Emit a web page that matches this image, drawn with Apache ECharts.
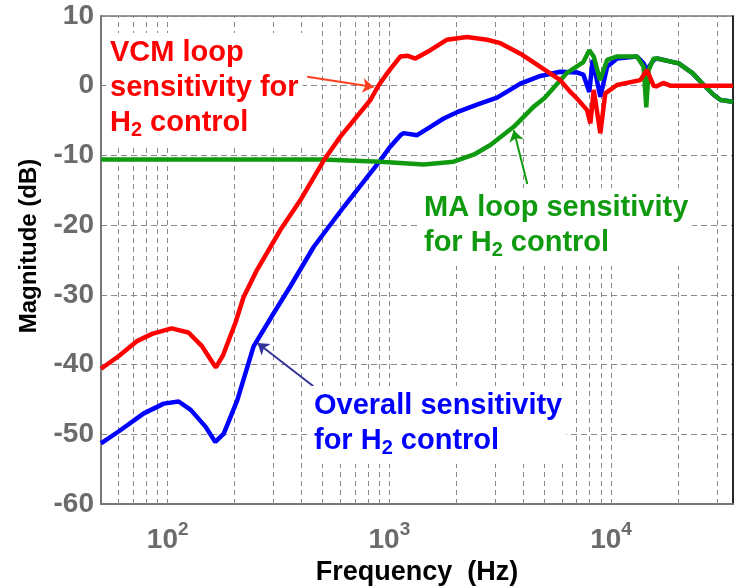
<!DOCTYPE html>
<html>
<head>
<meta charset="utf-8">
<script src="https://cdn.jsdelivr.net/npm/echarts@6/dist/echarts.min.js"></script>
<style>
  html, body { margin: 0; background: #fff; }
  #ech { width: 735px; height: 586px; }
</style>
</head>
<body>
<div id="ech"></div>
<script>
// frequency (Hz) / magnitude (dB)
var vcmFreq = [50, 60, 73, 85, 104, 124, 143, 160, 165, 178, 202, 220, 253, 322, 397, 506, 601, 821, 896, 1000,
  1122, 1202, 1310, 1531, 1820, 2240, 2760, 3170, 3900, 4800, 5900, 6600, 7000, 7800, 8070, 8350, 8950, 9420,
  10640, 13550, 14520, 15560, 16000, 17200, 18500, 35500];
var vcmMag = [-40.6, -38.8, -36.6, -35.6, -34.8, -35.4, -37.4, -39.8, -40.4, -38.6, -34.0, -30.3, -26.4, -20.7, -16.4,
  -10.7, -7.3, -2.05, 0.1, 2.2, 4.2, 4.3, 3.9, 5.1, 6.6, 7.0, 6.6, 6.1, 4.6, 2.7, 0.8, -1.0, -1.8, -3.5, -5.4, -0.6,
  -6.8, -1.1, 0.1, 0.8, 2.25, 0.0, -0.1, 0.4, 0.0, 0.0];

var overallFreq = [50, 60, 78, 96, 112, 127, 148, 164, 179, 206, 244, 301, 357, 456, 622, 910, 1000, 1122, 1160,
  1334, 1550, 1757, 2020, 2540, 3060, 3900, 4800, 5900, 7000, 7500, 7980, 8260, 8950, 9600, 10640, 13090, 14030,
  14520, 15560, 16150, 20200, 23300, 26200, 29000, 31200, 35500];
var overallMag = [-51.3, -49.6, -47.0, -45.6, -45.3, -46.5, -48.9, -51.1, -49.9, -45.1, -37.4, -32.6, -28.8, -23.1,
  -17.4, -10.7, -8.9, -7.1, -6.8, -7.1, -5.8, -4.7, -3.8, -2.6, -1.7, 0.3, 1.4, 2.0, 1.9, 1.6, -0.9, 3.7, -1.6, 2.7,
  3.9, 4.2, 3.2, 2.25, 3.7, 3.9, 3.2, 1.8, 0.1, -1.3, -2.05, -2.3];

var maFreq = [50, 500, 910, 1430, 1950, 2400, 2855, 3640, 4480, 5000, 5510, 6300, 7500, 7980, 8350, 8920, 9600,
  10640, 13090, 14030, 14420, 14780, 15560, 16150, 20200, 23300, 26200, 29000, 31200, 35500];
var maMag = [-10.6, -10.6, -10.9, -11.3, -10.9, -9.9, -8.5, -5.9, -3.0, -1.8, -0.3, 1.8, 3.4, 5.1, 4.2, 0.8, 3.7,
  4.2, 4.2, 2.7, -3.1, 2.25, 3.9, 3.9, 3.2, 1.8, 0.1, -1.3, -2.05, -2.3];

// dashed vertical grid lines (every 1..9 x decade)
var gridFreqs = [60, 70, 80, 90, 100, 200, 300, 400, 500, 600, 700, 800, 900, 1000,
  2000, 3000, 4000, 5000, 6000, 7000, 8000, 9000, 10000, 20000, 30000];

// annotation arrows: [tail, head] in [Hz, dB]
var vcmArrow = [[426, 1.3], [849, -0.2]];
var maArrow = [[4190, -14.1], [3640, -6.4]];
var overallArrow = [[454, -43.1], [254, -36.9]];

function pairs(xs, ys) {
  return xs.map(function (x, i) { return [x, ys[i]]; });
}

var FONT = "'Liberation Sans', Arial, Helvetica, sans-serif";

function labelStyle(color) {
  return {
    a: { fontSize: 29, fontWeight: 'bold', fontFamily: FONT, fill: color, color: color, lineHeight: 35 },
    s: { fontSize: 20, fontWeight: 'bold', fontFamily: FONT, fill: color, color: color, lineHeight: 35, verticalAlign: 'bottom' }
  };
}

function arrowLine(a, color) {
  return [
    { coord: a[0], lineStyle: { color: color, width: 2, type: 'solid' } },
    { coord: a[1] }
  ];
}

var myChart = echarts.init(document.getElementById('ech'));

var option = {
  animation: false,
  backgroundColor: '#fff',
  grid: {
    left: 101, right: 2, top: 16, bottom: 82,
    outerBoundsMode: 'none',
    show: true, borderColor: '#777', borderWidth: 1.5
  },
  xAxis: {
    type: 'log',
    logBase: 10,
    min: 50,
    max: 35500,
    name: 'Frequency  (Hz)',
    nameLocation: 'middle',
    nameGap: 50,
    nameTextStyle: { fontSize: 27, fontWeight: 'bold', color: '#000', fontFamily: FONT },
    axisLine: { onZero: false, lineStyle: { color: '#777', width: 2 } },
    axisTick: { show: false },
    splitLine: { show: false },
    axisLabel: {
      showMinLabel: false,
      showMaxLabel: false,
      margin: 16,
      formatter: function (v) {
        var e = Math.log(v) / Math.LN10;
        if (Math.abs(e - Math.round(e)) > 1e-6) return '';
        return '{b|10}{sup|' + Math.round(e) + '}';
      },
      rich: {
        b: { fontSize: 28, fontWeight: 'bold', color: '#6b6b6b', fontFamily: FONT, lineHeight: 40 },
        sup: { fontSize: 19, fontWeight: 'bold', color: '#6b6b6b', fontFamily: FONT, verticalAlign: 'top', lineHeight: 20 }
      }
    }
  },
  yAxis: [{
    type: 'value',
    min: -60,
    max: 10,
    interval: 10,
    name: 'Magnitude (dB)',
    nameLocation: 'middle',
    nameGap: 60,
    nameTextStyle: { fontSize: 24, fontWeight: 'bold', color: '#000', fontFamily: FONT, padding: [0, 0, 0, 28] },
    axisLine: { show: true, lineStyle: { color: '#777', width: 2 } },
    axisTick: { show: false },
    axisLabel: { fontSize: 28, fontWeight: 'bold', color: '#6b6b6b', fontFamily: FONT, margin: 7 },
    splitLine: { lineStyle: { color: '#888', width: 1, type: [6, 4] } }
  }, {
    type: 'value',
    position: 'right',
    min: -60,
    max: 10,
    axisLine: { show: true, onZero: false, lineStyle: { color: '#000', width: 1.5 } },
    axisTick: { show: false },
    axisLabel: { show: false },
    splitLine: { show: false }
  }],
  graphic: [
    {
      type: 'text', left: 106, top: 33, z: 100,
      style: {
        text: '{a|VCM loop}\n{a|sensitivity for}\n{a|H}{s|2}{a| control}',
        rich: labelStyle('#ff0000'),
        backgroundColor: '#fff', padding: [2, 4, 6, 4]
      }
    },
    {
      type: 'text', left: 420, top: 188, z: 100,
      style: {
        text: '{a|MA loop sensitivity}\n{a|for H}{s|2}{a| control}',
        rich: labelStyle('#109a10'),
        backgroundColor: '#fff', padding: [2, 4, 6, 4]
      }
    },
    {
      type: 'text', left: 310, top: 386, z: 100,
      style: {
        text: '{a|Overall sensitivity}\n{a|for H}{s|2}{a| control}',
        rich: labelStyle('#0000ff'),
        backgroundColor: '#fff', padding: [2, 4, 6, 4]
      }
    }
  ],
  series: [
    {
      name: 'grid',
      type: 'line',
      data: [],
      silent: true,
      markLine: {
        z: 1,
        silent: true,
        symbol: ['none', 'none'],
        label: { show: false },
        lineStyle: { color: '#888', width: 1, type: [5, 4] },
        data: gridFreqs.map(function (f) { return { xAxis: f }; })
      }
    },
    {
      name: 'Overall sensitivity',
      type: 'line',
      z: 3,
      showSymbol: false,
      data: pairs(overallFreq, overallMag),
      lineStyle: { color: '#0000ff', width: 4.5 }
    },
    {
      name: 'MA loop sensitivity',
      type: 'line',
      z: 4,
      showSymbol: false,
      data: pairs(maFreq, maMag),
      lineStyle: { color: '#109a10', width: 4.5 }
    },
    {
      name: 'VCM loop sensitivity',
      type: 'line',
      z: 5,
      showSymbol: false,
      data: pairs(vcmFreq, vcmMag),
      lineStyle: { color: '#ff0000', width: 4.5 }
    },
    {
      name: 'arrows',
      type: 'line',
      data: [],
      markLine: {
        z: 20,
        silent: true,
        symbol: ['none', 'arrow'],
        symbolSize: 11,
        label: { show: false },
        data: [
          arrowLine(vcmArrow, '#ff4020'),
          arrowLine(maArrow, '#109a10'),
          arrowLine(overallArrow, '#333399')
        ]
      }
    }
  ]
};

myChart.setOption(option);
</script>
</body>
</html>
